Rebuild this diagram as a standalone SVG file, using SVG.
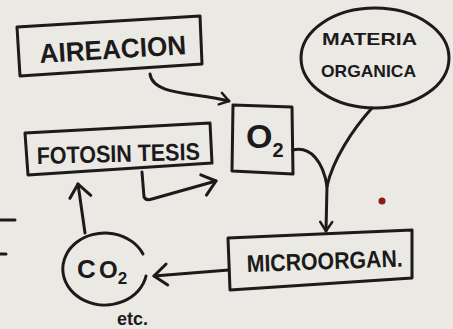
<svg xmlns="http://www.w3.org/2000/svg" width="453" height="329" viewBox="0 0 453 329">
<defs>
<marker id="arr" markerUnits="userSpaceOnUse" markerWidth="18" markerHeight="26" refX="15" refY="12" orient="auto">
<path d="M2,2 L15,12 L2,23" fill="none" stroke="#1c1a1a" stroke-width="3" stroke-linecap="round" stroke-linejoin="round"/>
</marker>
<marker id="arrs" markerUnits="userSpaceOnUse" markerWidth="14" markerHeight="16" refX="11" refY="8" orient="auto">
<path d="M2,2 L11,8 L2,14" fill="none" stroke="#1c1a1a" stroke-width="2.5" stroke-linecap="round" stroke-linejoin="round"/>
</marker>
</defs>
<style>
.ink{fill:none;stroke:#1c1a1a;stroke-width:3;stroke-linecap:round;stroke-linejoin:round}
.lbl{font-family:"Liberation Sans",Arial,sans-serif;font-weight:bold;fill:#1c1a1a}
</style>
<rect width="453" height="329" fill="#eae9e4"/>
<g id="margin-marks">
<line x1="0" y1="220" x2="15" y2="220" class="ink" stroke-width="4"/>
<line x1="0" y1="254" x2="6" y2="254" class="ink" stroke-width="4"/>
<circle cx="382" cy="201" r="3.5" fill="#8a1c12"/>
</g>
<g id="connectors">
<path class="ink" d="M150,74 C153,96 196,92 229,101" marker-end="url(#arrs)"/>
<path class="ink" d="M142,172 L144,197 Q146,201 152,199 L216,181" marker-end="url(#arr)"/>
<path class="ink" d="M293,150 C311,146 323,162 327,186"/>
<path class="ink" d="M372,108 C352,130 333,160 327,186"/>
<path class="ink" d="M327,186 L326,231" marker-end="url(#arrs)"/>
<path class="ink" d="M229,270 L154,276" marker-end="url(#arr)"/>
<path class="ink" d="M85,233 L78,184" marker-end="url(#arr)"/>
</g>
<g id="aireacion">
<polygon class="ink" points="17,27 200,16 202,64 20,76"/>
<text class="lbl" x="40" y="63" font-size="27" textLength="147" lengthAdjust="spacingAndGlyphs" transform="rotate(-3.5 40 63)">AIREACION</text>
</g>
<g id="materia-organica">
<ellipse class="ink" cx="375" cy="58" rx="74" ry="50"/>
<text class="lbl" x="322" y="45" font-size="17" textLength="95" lengthAdjust="spacingAndGlyphs">MATERIA</text>
<text class="lbl" x="321" y="77" font-size="17" textLength="95" lengthAdjust="spacingAndGlyphs">ORGANICA</text>
</g>
<g id="o2">
<polygon class="ink" points="233,105 292,107 293,174 232,171"/>
<text class="lbl" x="246" y="148" font-size="34">O<tspan font-size="20" dy="9">2</tspan></text>
</g>
<g id="fotosintesis">
<polygon class="ink" points="25,133 210,123 212,163 28,175"/>
<text class="lbl" x="37" y="164" font-size="24" textLength="163" lengthAdjust="spacingAndGlyphs" transform="rotate(-1.5 37 164)">FOTOSIN TESIS</text>
</g>
<g id="microorgan">
<polygon class="ink" points="228,238 412,230 412,278 230,290"/>
<text class="lbl" x="247" y="272" font-size="24" textLength="156" lengthAdjust="spacingAndGlyphs" transform="rotate(-2 247 272)">MICROORGAN.</text>
</g>
<g id="co2">
<path class="ink" d="M143,254 A42,36 0 1 0 146,276"/>
<text class="lbl" x="77" y="278" font-size="26">C</text>
<text class="lbl" x="99" y="278" font-size="24">O<tspan font-size="17" dy="6">2</tspan></text>
</g>
<g id="etc">
<text class="lbl" x="117" y="325" font-size="18" font-weight="normal">etc.</text>
</g>
</svg>
